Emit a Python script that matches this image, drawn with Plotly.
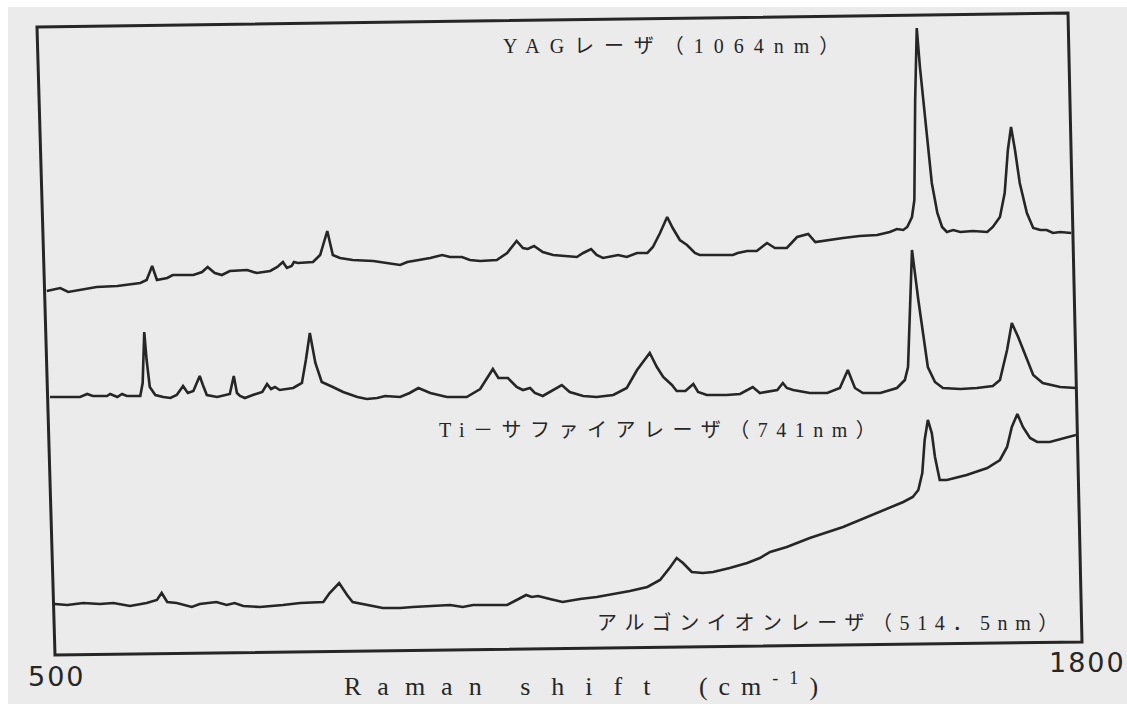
import plotly.graph_objects as go

# ---------------- data ----------------
# x: Raman shift in cm^-1, y: intensity (arbitrary units, traces stacked)
yag_shift = [501, 518, 528, 564, 590, 619, 627, 634, 640, 653, 660, 686, 697, 704, 713, 722, 732,
             754, 766, 783, 792, 799, 804, 810, 813, 818, 837, 846, 855, 862, 871, 887, 913, 922,
             934, 947, 956, 985, 1000, 1010, 1025, 1035, 1048, 1069, 1082, 1094, 1102, 1108, 1116,
             1127, 1140, 1158, 1170, 1178, 1188, 1195, 1203, 1216, 1222, 1233, 1246, 1259, 1266,
             1275, 1284, 1291, 1300, 1309, 1319, 1325, 1342, 1367, 1373, 1385, 1397, 1410, 1420,
             1435, 1448, 1462, 1471, 1486, 1506, 1527, 1549, 1565, 1574, 1582, 1587, 1593, 1596,
             1597, 1599, 1603, 1612, 1618, 1625, 1631, 1637, 1645, 1654, 1670, 1688, 1695, 1704,
             1710, 1714, 1718, 1723, 1729, 1738, 1746, 1755, 1763, 1771, 1780, 1794]
yag_int = [357, 360, 356, 361, 362, 365, 368, 382, 368, 370, 373, 373, 376, 381, 375, 373, 377,
           378, 375, 377, 381, 386, 380, 382, 386, 385, 386, 393, 417, 393, 390, 388, 387, 386,
           384, 383, 386, 390, 393, 391, 391, 388, 387, 388, 395, 407, 400, 399, 402,
           396, 393, 392, 391, 395, 399, 393, 390, 392, 393, 391, 395, 395, 401,
           415, 431, 420, 408, 403, 395, 393, 393, 393, 395, 397, 397, 405, 400,
           400, 411, 414, 406, 408, 410, 412, 413, 416, 419, 418, 421, 431, 448,
           548, 620, 581, 515, 465, 435, 421, 416, 418, 416, 417, 416, 421, 431,
           455, 498, 521, 498, 465, 435, 420, 418, 418, 415, 416, 415]

ti_shift = [505, 527, 543, 552, 559, 577, 581, 590, 596, 602, 619, 622, 624, 627, 631, 638, 648,
            657, 665, 673, 679, 686, 694, 698, 703, 716, 732, 737, 741, 745, 751, 761, 773, 779,
            784, 789, 795, 812, 823, 828, 833, 840, 848, 862, 875, 893, 905, 918, 928, 947, 959,
            970, 985, 1006, 1031, 1048, 1057, 1064, 1071, 1083, 1094, 1102, 1111, 1117, 1127,
            1140, 1151, 1161, 1178, 1195, 1216, 1233, 1246, 1262, 1271, 1279, 1290, 1296, 1307,
            1317, 1323, 1334, 1359, 1376, 1392, 1401, 1423, 1430, 1435, 1443, 1464, 1486, 1502,
            1512, 1521, 1531, 1553, 1574, 1584, 1588, 1590, 1593, 1601, 1607, 1613, 1622, 1632,
            1654, 1675, 1695, 1704, 1713, 1719, 1727, 1738, 1746, 1758, 1780, 1800]
ti_int = [251, 251, 251, 254, 252, 252, 254, 251, 254, 252, 252, 265, 316, 288, 261, 253, 251,
          250, 253, 262, 255, 257, 272, 263, 253, 251, 254, 272, 255, 252, 250, 253, 256, 264,
          259, 261, 258, 260, 265, 288, 315, 285, 266, 261, 256, 251, 249, 250, 252, 251, 255,
          260, 255, 251, 251, 259, 271, 279, 270, 270, 261, 258, 260, 255, 252,
          258, 263, 256, 252, 251, 253, 260, 278, 295, 281, 271, 263, 257, 257,
          264, 256, 253, 253, 254, 261, 255, 258, 265, 260, 258, 255, 255, 260,
          278, 260, 255, 255, 260, 268, 281, 331, 398, 348, 315, 281, 266, 260,
          259, 260, 262, 268, 298, 325, 311, 288, 273, 265, 261, 260]

ar_shift = [511, 527, 547, 568, 585, 606, 627, 640, 646, 653, 665, 684, 694, 715, 728, 738, 749,
            770, 799, 821, 850, 858, 870, 880, 887, 905, 925, 947, 963, 1010, 1026, 1039, 1082,
            1094, 1106, 1113, 1121, 1136, 1152, 1174, 1195, 1216, 1237, 1259, 1275, 1288, 1296,
            1304, 1315, 1329, 1342, 1363, 1385, 1401, 1414, 1435, 1464, 1506, 1549, 1582, 1594,
            1601, 1606, 1609, 1613, 1618, 1622, 1628, 1637, 1662, 1688, 1704, 1713, 1719, 1726,
            1733, 1742, 1751, 1767, 1780, 1800]
ar_int = [44, 43, 45, 44, 45, 42, 45, 48, 55, 46, 45, 41, 44, 46, 43, 45, 42,
          41, 43, 45, 46, 55, 65, 53, 46, 43, 40, 40, 41, 43, 41, 43, 43,
          48, 53, 51, 52, 49, 46, 49, 51, 54, 57, 61, 68, 81, 90,
          85, 76, 75, 76, 80, 85, 90, 96, 101, 110, 121, 135, 146, 151,
          158, 175, 208, 228, 215, 191, 168, 168, 173, 180, 188, 201, 221, 234,
          221, 210, 206, 206, 209, 213]

series = [
    ("YAGレーザ (1064nm)", yag_shift, yag_int),
    ("Ti-サファイアレーザ (741nm)", ti_shift, ti_int),
    ("アルゴンイオンレーザ (514.5nm)", ar_shift, ar_int),
]

tick_vals = [500, 1800]
tick_text = ["500", "1800"]

label_yag = "YAGレーザ（1064nm）"
label_ti = "Ti－サファイアレーザ（741nm）"
label_ar = "アルゴンイオンレーザ（514．5nm）"
title_words = ["Raman ", "shift ", "(cm<sup>-1</sup>)"]

# ---------------- style ----------------
W, H = 1127, 704
L, R, T, B = 46, 1076, 20, 648          # plot area in pixels
BG = "#ebebeb"
INK = "#262626"
SERIF = "Liberation Serif, 'Noto Sans CJK JP', serif"


def pxx(px):
    return (px - L) / (R - L)


def pxy(py):
    return (B - py) / (B - T)


def spaced(text, ls):
    return f'<span style="letter-spacing:{ls}px">{text}</span>'


fig = go.Figure()
for name, xs, ys in series:
    fig.add_trace(go.Scatter(x=xs, y=ys, mode="lines", name=name,
                             line=dict(color=INK, width=2.6),
                             hoverinfo="skip", showlegend=False))

shapes = [
    # slightly rotated scanned frame
    dict(type="path", xref="paper", yref="paper",
         path=(f"M {pxx(37)},{pxy(27)} L {pxx(1068)},{pxy(13)} "
               f"L {pxx(1082)},{pxy(642)} L {pxx(55)},{pxy(655)} Z"),
         line=dict(color=INK, width=3), fillcolor="rgba(0,0,0,0)", layer="above"),
    # white scanner margins
    dict(type="rect", xref="paper", yref="paper", x0=pxx(0), x1=pxx(W), y0=pxy(0), y1=pxy(7),
         fillcolor="white", line=dict(width=0), layer="above"),
    dict(type="rect", xref="paper", yref="paper", x0=pxx(0), x1=pxx(8), y0=pxy(0), y1=pxy(H),
         fillcolor="white", line=dict(width=0), layer="above"),
]

annotations = [
    dict(text=spaced(label_yag, 10), x=pxx(676), y=pxy(46)),
    dict(text=spaced(label_ti, 8.5), x=pxx(661), y=pxy(430)),
    dict(text=spaced(label_ar, 7.6), x=pxx(831), y=pxy(623)),
]
for a in annotations:
    a.update(xref="paper", yref="paper", showarrow=False, xanchor="center", yanchor="middle",
             font=dict(family=SERIF, size=20, color=INK))

title_html = spaced(title_words[0], 16) + spaced(title_words[1], 21) + spaced(title_words[2], 11)
annotations.append(dict(text=title_html, x=pxx(586), y=pxy(684), xref="paper", yref="paper",
                        showarrow=False, xanchor="center", yanchor="middle",
                        font=dict(family=SERIF, size=26, color=INK)))

for v, t in zip(tick_vals, tick_text):
    frac = (v - tick_vals[0]) / (tick_vals[-1] - tick_vals[0])
    annotations.append(dict(text=spaced(t, 2), x=v, xref="x", y=pxy(676 - 14 * frac), yref="paper",
                            xshift=11, showarrow=False, xanchor="center", yanchor="middle",
                            font=dict(family="DejaVu Sans", size=27, color=INK)))

fig.update_layout(
    width=W, height=H, autosize=False,
    margin=dict(l=L, r=W - R, t=T, b=H - B, pad=0),
    paper_bgcolor=BG, plot_bgcolor=BG,
    showlegend=False,
    xaxis=dict(range=[500, 1800], showgrid=False, zeroline=False, showline=False,
               showticklabels=False, ticks="", fixedrange=True),
    yaxis=dict(range=[0, 628], visible=False, fixedrange=True),
    shapes=shapes,
    annotations=annotations,
)

fig.write_html("out.html", config={"displayModeBar": False},
               post_script="document.body.style.margin='0';document.body.style.overflow='hidden';")
